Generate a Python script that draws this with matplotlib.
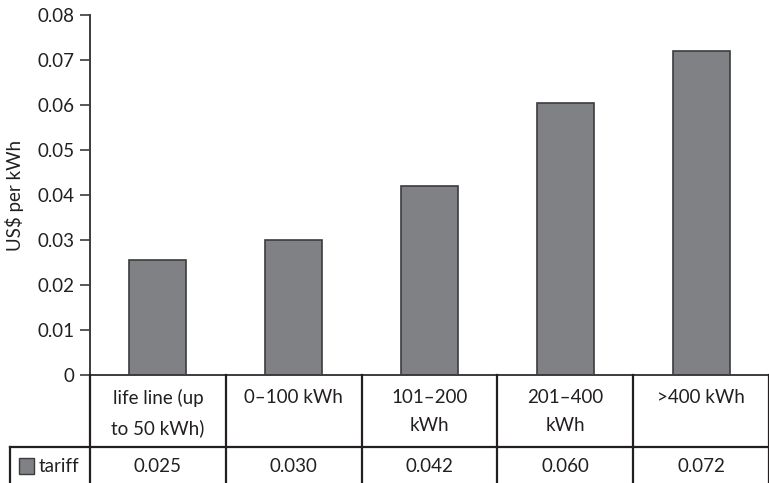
import matplotlib
matplotlib.use("Agg")
import matplotlib.pyplot as plt
import numpy as np
from matplotlib.transforms import blended_transform_factory
from matplotlib.lines import Line2D
from matplotlib.patches import Rectangle

plt.rcParams['font.family'] = ['Lato', 'DejaVu Sans']

categories = ['life line (up\nto 50 kWh)', '0\u2013100 kWh', '101\u2013200\nkWh',
              '201\u2013400\nkWh', '>400 kWh']
tariff = [0.0255, 0.030, 0.042, 0.0604, 0.072]
tariff_labels = ['0.025', '0.030', '0.042', '0.060', '0.072']
series_name = 'tariff'
yticks = [0, 0.01, 0.02, 0.03, 0.04, 0.05, 0.06, 0.07, 0.08]

W, H = 769, 483
fs = 13.5
fig = plt.figure(figsize=(W / 100, H / 100), dpi=100)
ax = fig.add_axes([90 / W, 1 - 375 / H, 1 - 90 / W, (375 - 15.3) / H])

bar_color = '#808184'
line_color = '#231f20'
x = np.arange(len(categories))
ax.bar(x, tariff, width=0.42, color=bar_color, edgecolor='#3c3c3e', linewidth=1.2, zorder=2)

ax.set_xlim(-0.5, len(categories) - 0.5)
ax.set_ylim(0, 0.08)
ax.set_yticks(yticks)
ax.set_yticklabels(['0' if v == 0 else f'{v:.2f}' for v in yticks])
ax.set_xticks([])
ax.tick_params(axis='y', length=7, width=1.2, color='#3c3c3e', pad=4, labelsize=fs, labelcolor='#231f20')
for s in ['top', 'right']:
    ax.spines[s].set_visible(False)
for s in ['left', 'bottom']:
    ax.spines[s].set_color('#3c3c3e')
    ax.spines[s].set_linewidth(1.4)
ax.set_ylabel('US$ per kWh', fontsize=fs, color='#231f20', labelpad=10)

# data table under the axis
tr = blended_transform_factory(ax.transData, fig.transFigure)
y_top = 1 - 375 / H
y_mid = 1 - 447 / H
y_bot = 0.0
for i in range(len(categories) + 1):
    fig.add_artist(Line2D([i - 0.5, i - 0.5], [y_top, y_bot], transform=tr,
                          color=line_color, lw=1.6, clip_on=False))
fig.add_artist(Line2D([10 / W, 1.0], [y_mid, y_mid], transform=fig.transFigure,
                      color=line_color, lw=1.6))
fig.add_artist(Line2D([10 / W, 10 / W], [y_mid, y_bot], transform=fig.transFigure,
                      color=line_color, lw=1.6))

for i, (cat, val) in enumerate(zip(categories, tariff_labels)):
    ax.text(i, 1 - 389 / H, cat, transform=tr, ha='center', va='top',
            fontsize=fs, color='#231f20', linespacing=1.8)
    ax.text(i, 1 - 466 / H, val, transform=tr, ha='center', va='center',
            fontsize=fs, color='#231f20')

fig.add_artist(Rectangle((19 / W, 1 - 474 / H), 15 / W, 16 / H, transform=fig.transFigure,
                         facecolor=bar_color, edgecolor='#3c3c3e', lw=1.0))
fig.text(39 / W, 1 - 466 / H, series_name, ha='left', va='center', fontsize=fs, color='#231f20')

fig.savefig('out.png', dpi=100)
